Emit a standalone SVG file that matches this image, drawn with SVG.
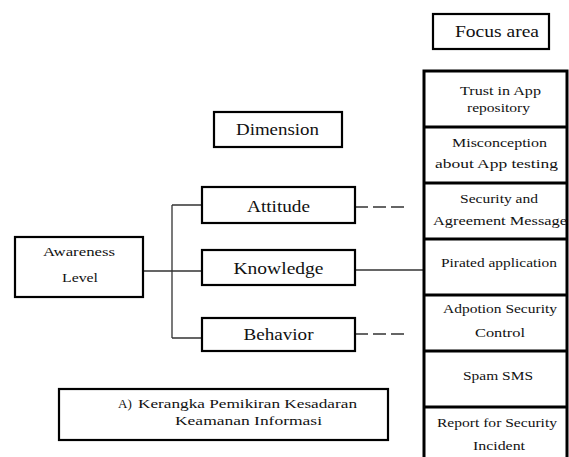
<svg xmlns="http://www.w3.org/2000/svg" width="569" height="457" viewBox="0 0 569 457" font-family="Liberation Serif, serif">
<style>
.box{fill:#fff;stroke:#000;stroke-width:2.2}
.col{fill:#fff;stroke:#000;stroke-width:3}
.con{stroke:#333;stroke-width:1.3;fill:none}
.dash{stroke-dasharray:13 5}
</style>
<rect width="569" height="457" fill="#fff"/>
<g id="focus-area">
<rect class="box" x="433" y="14" width="116" height="35"/>
<text font-family="Liberation Serif, serif" font-size="16" text-anchor="middle" fill="#111" x="497" y="37" textLength="84" lengthAdjust="spacingAndGlyphs">Focus area</text>
</g>
<g id="dimension">
<rect class="box" x="214" y="112" width="128" height="35"/>
<text font-family="Liberation Serif, serif" font-size="16" text-anchor="middle" fill="#111" x="277.5" y="135" textLength="83" lengthAdjust="spacingAndGlyphs">Dimension</text>
</g>
<g id="connectors">
<path class="con" d="M143 271H202M172 205V338M172 205H202M172 338H202"/>
<path class="con" d="M355 270H424"/>
<path class="con dash" d="M355 207H406"/>
<path class="con dash" d="M355 334H406"/>
</g>
<g id="awareness" font-family="Liberation Serif, serif" font-size="13" text-anchor="middle" fill="#111">
<rect class="box" x="15" y="237" width="128" height="60"/>
<text x="79" y="256" textLength="72" lengthAdjust="spacingAndGlyphs">Awareness</text>
<text x="80" y="282" textLength="36" lengthAdjust="spacingAndGlyphs">Level</text>
</g>
<g id="attitude" font-family="Liberation Serif, serif" font-size="16" text-anchor="middle" fill="#111">
<rect class="box" x="202" y="187" width="153" height="36"/>
<text x="278.5" y="212" textLength="63" lengthAdjust="spacingAndGlyphs">Attitude</text>
</g>
<g id="knowledge" font-family="Liberation Serif, serif" font-size="16" text-anchor="middle" fill="#111">
<rect class="box" x="202" y="250" width="153" height="35"/>
<text x="278.5" y="274" textLength="90" lengthAdjust="spacingAndGlyphs">Knowledge</text>
</g>
<g id="behavior" font-family="Liberation Serif, serif" font-size="16" text-anchor="middle" fill="#111">
<rect class="box" x="202" y="318" width="153" height="33"/>
<text x="278.5" y="340" textLength="70" lengthAdjust="spacingAndGlyphs">Behavior</text>
</g>
<g id="focus-column">
<rect class="col" x="424" y="71" width="143" height="392"/>
<path class="col" d="M424 127H567M424 183H567M424 239H567M424 295H567M424 351H567M424 407H567"/>
</g>
<g font-family="Liberation Serif, serif" font-size="12.5" text-anchor="middle" fill="#111">
<g id="trust">
<text x="500.5" y="95" textLength="81" lengthAdjust="spacingAndGlyphs">Trust in App</text>
<text x="498.5" y="112" textLength="63" lengthAdjust="spacingAndGlyphs">repository</text>
</g>
<g id="misconception">
<text x="499.5" y="147" textLength="95" lengthAdjust="spacingAndGlyphs">Misconception</text>
<text x="496.5" y="168" textLength="123" lengthAdjust="spacingAndGlyphs">about App testing</text>
</g>
<g id="security-agreement">
<text x="499" y="203" textLength="78" lengthAdjust="spacingAndGlyphs">Security and</text>
<text x="500" y="225" textLength="134" lengthAdjust="spacingAndGlyphs">Agreement Message</text>
</g>
<g id="pirated">
<text x="499" y="267" textLength="116" lengthAdjust="spacingAndGlyphs">Pirated application</text>
</g>
<g id="adoption">
<text x="500" y="313" textLength="114" lengthAdjust="spacingAndGlyphs">Adpotion Security</text>
<text x="500" y="337" textLength="50" lengthAdjust="spacingAndGlyphs">Control</text>
</g>
<g id="spam">
<text x="498" y="380" textLength="70" lengthAdjust="spacingAndGlyphs">Spam SMS</text>
</g>
<g id="report">
<text x="497" y="427" textLength="120" lengthAdjust="spacingAndGlyphs">Report for Security</text>
<text x="499" y="450" textLength="52" lengthAdjust="spacingAndGlyphs">Incident</text>
</g>
</g>
<g id="caption" font-family="Liberation Serif, serif" font-size="13" fill="#111">
<rect class="box" x="59" y="389" width="329" height="51"/>
<text x="118" y="408">A)</text>
<text x="138" y="408" textLength="219" lengthAdjust="spacingAndGlyphs">Kerangka Pemikiran Kesadaran</text>
<text x="175" y="425" textLength="147" lengthAdjust="spacingAndGlyphs">Keamanan Informasi</text>
</g>
</svg>
